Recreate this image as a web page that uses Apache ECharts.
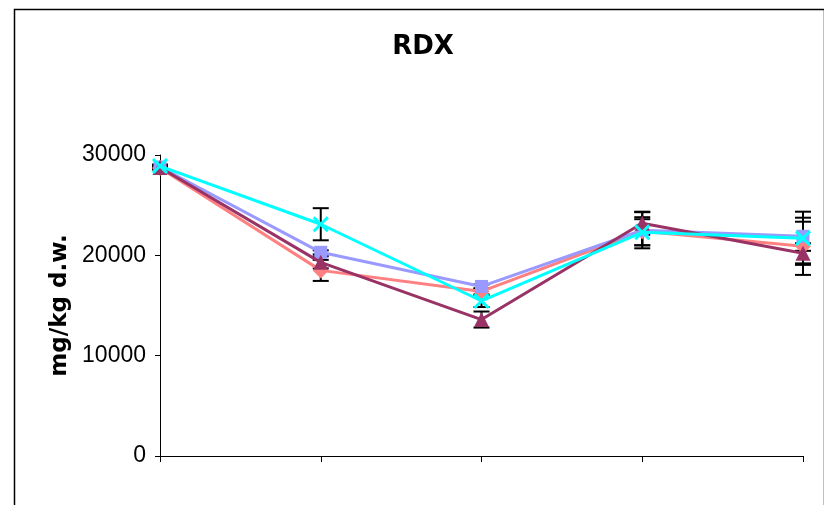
<!DOCTYPE html>
<html>
<head>
<meta charset="utf-8">
<script src="https://cdn.jsdelivr.net/npm/echarts@6/dist/echarts.min.js"></script>
<style>html,body{margin:0;padding:0;background:#fff}#c{width:824px;height:505px}</style>
</head>
<body>
<div id="c"></div>
<script>
// ---- data ----
const categories = ['1', '2', '3', '4', '5'];
const yTicks = [0, 10000, 20000, 30000];

const salmonVals   = [28700, 18500, 16400, 22400, 20900];
const lavenderVals = [28800, 20300, 16900, 22500, 21900];
const maroonVals   = [28750, 19300, 13600, 23200, 20200];
const cyanVals     = [28900, 23100, 15450, 22300, 21700];

const salmonErr   = [150, 1050, 300, 1400, 2850];
const lavenderErr = [150, 200, 200, 1800, 1450];
const maroonErr   = [150, 600, 800, 1150, 1000];
const cyanErr     = [150, 1600, 600, 1300, 2650];

const seriesDefs = [
  { name: 'A', vals: salmonVals,   err: salmonErr,   color: '#FF8080', symbol: 'diamond',  size: 16 },
  { name: 'B', vals: lavenderVals, err: lavenderErr, color: '#9999FF', symbol: 'rect',     size: 13 },
  { name: 'C', vals: maroonVals,   err: maroonErr,   color: '#993366', symbol: 'triangle', size: 15 },
  { name: 'D', vals: cyanVals,     err: cyanErr,     color: '#00FFFF', symbol: 'path://M0,0L10,10M10,0L0,10', size: 14 }
];

function errData(vals, err) {
  return vals.map((v, i) => [i, v, err[i]]);
}

function renderErr(params, api) {
  const x = api.value(0), y = api.value(1), e = api.value(2);
  const top = api.coord([x, y + e]);
  const bot = api.coord([x, y - e]);
  const hw = 8;
  const st = { stroke: '#000', lineWidth: 2 };
  return {
    type: 'group',
    children: [
      { type: 'line', shape: { x1: top[0], y1: top[1], x2: bot[0], y2: bot[1] }, style: st },
      { type: 'line', shape: { x1: top[0] - hw, y1: top[1], x2: top[0] + hw, y2: top[1] }, style: st },
      { type: 'line', shape: { x1: bot[0] - hw, y1: bot[1], x2: bot[0] + hw, y2: bot[1] }, style: st }
    ]
  };
}

const series = [];
seriesDefs.forEach(d => {
  series.push({
    type: 'custom',
    name: d.name + ' err',
    renderItem: renderErr,
    data: errData(d.vals, d.err),
    encode: { x: 0, y: 1 },
    z: 1,
    silent: true
  });
});
seriesDefs.forEach((d, k) => {
  const isX = d.symbol.indexOf('path://') === 0;
  series.push({
    type: 'line',
    name: d.name,
    data: d.vals,
    symbol: d.symbol,
    symbolSize: d.size,
    showSymbol: true,
    lineStyle: { color: d.color, width: 3 },
    itemStyle: isX ? { color: 'rgba(0,0,0,0)', borderColor: d.color, borderWidth: 3 } : { color: d.color, borderWidth: 0 },
    z: 2 + k,
    animation: false
  });
});

const chart = echarts.init(document.getElementById('c'), null, { renderer: 'canvas' });
chart.setOption({
  animation: false,
  backgroundColor: '#ffffff',
  title: {
    text: 'RDX',
    left: 418,
    textAlign: 'center',
    top: 29,
    textStyle: { fontFamily: 'DejaVu Sans', fontWeight: 'bold', fontSize: 26, color: '#000' }
  },
  graphic: [{
    type: 'rect',
    left: 12, top: 7,
    shape: { width: 810, height: 520 },
    style: { fill: 'none', stroke: '#000', lineWidth: 1.5 },
    silent: true, z: 0
  }],
  grid: { left: 160, right: 21, top: 155, bottom: 49, containLabel: false },
  xAxis: {
    type: 'category',
    data: categories,
    boundaryGap: false,
    axisLine: { lineStyle: { color: '#000', width: 1 } },
    axisTick: { show: true, length: 6, lineStyle: { color: '#000' }, alignWithLabel: true },
    axisLabel: { show: false },
    splitLine: { show: false }
  },
  yAxis: {
    type: 'value',
    min: yTicks[0],
    max: yTicks[yTicks.length - 1],
    interval: yTicks[1] - yTicks[0],
    name: 'mg/kg d.w.',
    nameLocation: 'middle',
    nameRotate: 90,
    nameGap: 84,
    nameTextStyle: { fontFamily: 'DejaVu Sans', fontWeight: 'bold', fontSize: 23, color: '#000' },
    axisLine: { show: true, lineStyle: { color: '#000', width: 1 } },
    axisTick: { show: true, length: 5, lineStyle: { color: '#000' } },
    axisLabel: { fontFamily: 'Liberation Sans', fontSize: 23, color: '#000', margin: 14, formatter: v => String(v) },
    splitLine: { show: false }
  },
  series: series
});
</script>
</body>
</html>
